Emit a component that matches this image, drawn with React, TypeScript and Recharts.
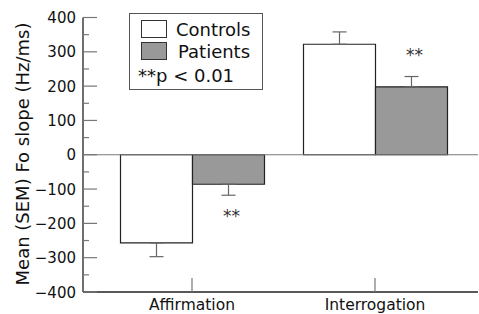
import { BarChart, Bar, XAxis, YAxis, ErrorBar, ReferenceLine, Legend, LabelList } from "recharts";

const categories = ["Affirmation", "Interrogation"];
const controls = [-257, 322];
const controlsSem = [40, 36];
const patients = [-86, 198];
const patientsSem = [32, 30];
const patientsSig = ["**", "**"];
const yTicks = [-400, -350, -300, -250, -200, -150, -100, -50, 0, 50, 100, 150, 200, 250, 300, 350, 400];
const yLabel = "Mean (SEM) Fo slope (Hz/ms)";
const note = "**p < 0.01";

// one-sided error: only drawn away from zero
const sided = (v: number, e: number) => (v < 0 ? [e, 0] : [0, e]);

const data = categories.map((name, i) => ({
  name,
  controls: controls[i],
  controlsErr: sided(controls[i], controlsSem[i]),
  patients: patients[i],
  patientsErr: sided(patients[i], patientsSem[i]),
  sig: patientsSig[i],
}));

const font = "'DejaVu Sans', sans-serif";

const YTick = (props: any) => {
  const { x, y, payload } = props;
  const v = payload.value;
  const major = v % 100 === 0;
  return (
    <g>
      <line x1={x} x2={x + (major ? 14 : 6)} y1={y} y2={y} stroke="#777" strokeWidth={1.2} />
      {major && (
        <text x={x - 7} y={y} dy={5.5} textAnchor="end" fontFamily={font} fontSize={15} fill="#111">
          {(v < 0 ? "\u2212" : "") + Math.abs(v)}
        </text>
      )}
    </g>
  );
};

const XTick = (props: any) => {
  const { x, y, payload } = props;
  return (
    <g>
      <line x1={x} x2={x} y1={y} y2={y - 14} stroke="#777" strokeWidth={1.2} />
      <text x={x} y={y + 17.5} textAnchor="middle" fontFamily={font} fontSize={15.5} fill="#111">
        {payload.value}
      </text>
    </g>
  );
};

const SigLabel = (props: any) => {
  const { x, y, width, height, value, index } = props;
  if (!value) return null;
  const top = Math.min(y, y + height);
  const bottom = Math.max(y, y + height);
  const cy = patients[index] < 0 ? bottom + 28 : top - 35;
  return (
    <text x={x + width / 2 + 3} y={cy + 9.5} textAnchor="middle" fontFamily={font} fontSize={17} fill="#333">
      {value}
    </text>
  );
};

const LegendBox = ({ payload }: any) => (
  <div style={{ position: "relative", width: 134, height: 77, border: "1px solid #555", boxSizing: "border-box", background: "#fff", fontFamily: font, fontSize: 18, color: "#111" }}>
    {(payload || []).map((p: any, i: number) => (
      <div key={p.value} style={{ position: "absolute", left: 11, top: 6 + i * 22, height: 18, display: "flex", alignItems: "center", whiteSpace: "nowrap" }}>
        <span style={{ display: "inline-block", width: 24, height: 16, background: p.color, border: "1px solid #333", marginRight: 9 + i * 2 }} />
        <span>{p.value}</span>
      </div>
    ))}
    <div style={{ position: "absolute", left: 8, top: 51, whiteSpace: "nowrap" }}>{note}</div>
  </div>
);

export default function App() {
  return (
    <div style={{ position: "absolute", left: 0, top: 0, background: "#fff" }}>
      <BarChart width={479} height={314} data={data} margin={{ top: 17.5, right: 1, bottom: 0, left: 0 }} barSize={72} barGap={0}>
        <YAxis
          type="number"
          domain={[-400, 400]}
          ticks={yTicks}
          interval={0}
          width={83}
          tickSize={0}
          tickMargin={0}
          tickLine={false}
          tick={<YTick />}
          axisLine={{ stroke: "#222", strokeWidth: 1.3 }}
          label={{
            content: () => (
              <text transform="translate(29,154) rotate(-90)" textAnchor="middle" fontFamily={font} fontSize={18} fill="#111">
                {yLabel}
              </text>
            ),
          }}
        />
        <XAxis
          dataKey="name"
          height={22}
          padding={{ left: 17.5, right: 11.5 }}
          tickSize={0}
          tickMargin={0}
          tickLine={false}
          tick={<XTick />}
          axisLine={{ stroke: "#222", strokeWidth: 1.3 }}
        />
        <ReferenceLine y={0} stroke="#777" strokeWidth={1.2} />
        <Legend
          layout="vertical"
          align="center"
          verticalAlign="middle"
          wrapperStyle={{ left: 129, top: 13, width: 134, height: 77 }}
          content={(p: any) => <LegendBox payload={p.payload} />}
        />
        <Bar dataKey="controls" name="Controls" fill="#ffffff" stroke="#222" strokeWidth={1.2} isAnimationActive={false}>
          <ErrorBar dataKey="controlsErr" width={7} stroke="#666" strokeWidth={1.2} />
        </Bar>
        <Bar dataKey="patients" name="Patients" fill="#999999" stroke="#222" strokeWidth={1.2} isAnimationActive={false}>
          <ErrorBar dataKey="patientsErr" width={7} stroke="#666" strokeWidth={1.2} />
          <LabelList dataKey="sig" content={<SigLabel />} />
        </Bar>
      </BarChart>
    </div>
  );
}
